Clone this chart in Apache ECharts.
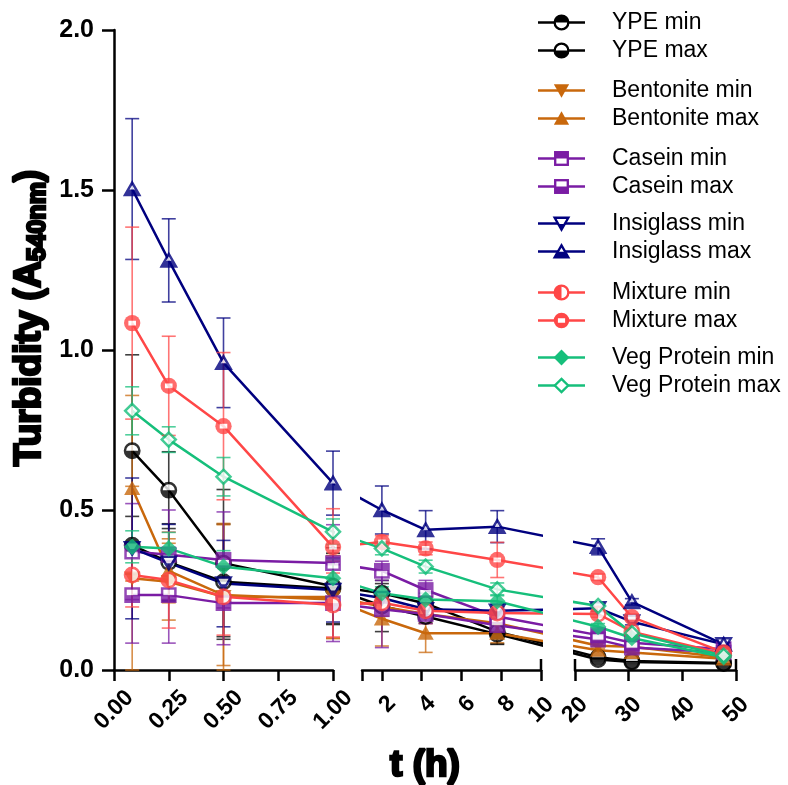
<!DOCTYPE html>
<html>
<head>
<meta charset="utf-8">
<title>Turbidity over time</title>
<script src="https://cdn.jsdelivr.net/npm/echarts@6/dist/echarts.min.js"></script>
<style>
  html, body { margin: 0; padding: 0; background: #ffffff; }
  #chart { width: 788px; height: 785px; }
</style>
</head>
<body>
<div id="chart"></div>
<script>
// Sampling times (h)
const TIMES = [0.083, 0.25, 0.5, 1, 2, 4.2, 7.8, 24.3, 30.6, 47.7];

// Turbidity (A540nm) means and error half-widths per fining agent
const ypeMin      = [0.390, 0.337, 0.276, 0.255, 0.200, 0.167, 0.112, 0.033, 0.025, 0.020];
const ypeMinErr   = [0.090, 0.120, 0.180, 0.110, 0.080, 0.020, 0.030, 0.005, 0.005, 0.005];
const ypeMax      = [0.685, 0.562, 0.334, 0.262, 0.240, 0.208, 0.120, 0.040, 0.028, 0.022];
const ypeMaxErr   = [0.300, 0.120, 0.230, 0.120, 0.030, 0.020, 0.040, 0.005, 0.005, 0.005];
const bentMin     = [0.287, 0.276, 0.229, 0.228, 0.198, 0.175, 0.146, 0.076, 0.073, 0.040];
const bentMinErr  = [0.287, 0.120, 0.229, 0.130, 0.030, 0.030, 0.030, 0.010, 0.010, 0.005];
const bentMax     = [0.568, 0.310, 0.234, 0.220, 0.160, 0.115, 0.115, 0.062, 0.055, 0.035];
const bentMaxErr  = [0.290, 0.100, 0.220, 0.120, 0.085, 0.060, 0.030, 0.010, 0.010, 0.005];
const casMin      = [0.370, 0.360, 0.344, 0.334, 0.310, 0.250, 0.167, 0.109, 0.085, 0.065];
const casMinErr   = [0.150, 0.140, 0.150, 0.120, 0.030, 0.030, 0.020, 0.010, 0.010, 0.005];
const casMax      = [0.234, 0.234, 0.209, 0.209, 0.190, 0.175, 0.140, 0.095, 0.070, 0.055];
const casMaxErr   = [0.150, 0.150, 0.130, 0.120, 0.120, 0.030, 0.020, 0.010, 0.010, 0.005];
const insMin      = [0.380, 0.335, 0.270, 0.250, 0.225, 0.190, 0.185, 0.193, 0.151, 0.080];
const insMinErr   = [0.220, 0.120, 0.135, 0.100, 0.020, 0.020, 0.020, 0.010, 0.010, 0.005];
const insMax      = [1.503, 1.280, 0.960, 0.584, 0.500, 0.438, 0.448, 0.385, 0.213, 0.080];
const insMaxErr   = [0.220, 0.130, 0.140, 0.100, 0.075, 0.060, 0.050, 0.025, 0.010, 0.005];
const mixMin      = [0.297, 0.281, 0.229, 0.203, 0.210, 0.185, 0.178, 0.175, 0.120, 0.050];
const mixMinErr   = [0.100, 0.150, 0.120, 0.100, 0.020, 0.020, 0.020, 0.010, 0.010, 0.005];
const mixMax      = [1.084, 0.888, 0.762, 0.384, 0.400, 0.380, 0.344, 0.290, 0.165, 0.055];
const mixMaxErr   = [0.300, 0.155, 0.230, 0.120, 0.020, 0.020, 0.055, 0.010, 0.010, 0.005];
const vegMin      = [0.385, 0.380, 0.323, 0.287, 0.240, 0.220, 0.215, 0.135, 0.100, 0.040];
const vegMinErr   = [0.050, 0.050, 0.050, 0.060, 0.020, 0.020, 0.020, 0.010, 0.010, 0.005];
const vegMax      = [0.810, 0.720, 0.604, 0.432, 0.380, 0.323, 0.252, 0.200, 0.115, 0.045];
const vegMaxErr   = [0.075, 0.040, 0.060, 0.040, 0.020, 0.020, 0.020, 0.010, 0.010, 0.005];

// Tick labels of the three x-axis segments
const ticksSeg1 = ['0.00', '0.25', '0.50', '0.75', '1.00'];
const ticksSeg2 = ['2', '4', '6', '8', '10'];
const ticksSeg3 = ['20', '30', '40', '50'];
const yTicks    = ['0.0', '0.5', '1.0', '1.5', '2.0'];

const FONT = "'Liberation Sans', Arial, Helvetica, sans-serif";
const COLORS = {
  ype: '#000000', bent: '#c9680c', cas: '#7a1ca4',
  ins: '#00007f', mix: '#ff4747', veg: '#16bf7b'
};

// Broken time axis: each piece maps a time span onto a span of the shared
// display coordinate (1 unit = 1 px), so connecting lines stay straight
// across the breaks.
const PLOT = { left: 114, top: 30, bottom: 115, width: 622 };
const SEGMENTS = [
  { t0: 0,  t1: 1,  u0: 0,   u1: 219, ticks: ticksSeg1, extra: [] },
  { t0: 1,  t1: 10, u0: 248, u1: 427, ticks: ticksSeg2, extra: [1] },
  { t0: 20, t1: 50, u0: 461, u1: 622, ticks: ticksSeg3, extra: [] }
];
function segToU(s, t) { return s.u0 + (t - s.t0) * (s.u1 - s.u0) / (s.t1 - s.t0); }
function toU(t) {
  for (const s of SEGMENTS) {
    if (t >= s.t0 && t <= s.t1) return segToU(s, t);
  }
  return null;
}

// Marker artwork (20x20 units)
function markerShapes(kind, c) {
  const sw = 2.6;
  const open = `fill="#fff" stroke="${c}" stroke-width="${sw}" stroke-linejoin="miter"`;
  switch (kind) {
    case 'circleTop':
      return `<circle cx="10" cy="10" r="7.6" ${open}/><path d="M2.4 10A7.6 7.6 0 0 1 17.6 10Z" fill="${c}"/>`;
    case 'circleBottom':
      return `<circle cx="10" cy="10" r="7.6" ${open}/><path d="M2.4 10A7.6 7.6 0 0 0 17.6 10Z" fill="${c}"/>`;
    case 'triDown':
      return `<path d="M1.5 3H18.5L10 18Z" fill="${c}"/>`;
    case 'triUp':
      return `<path d="M10 2L18.5 17H1.5Z" fill="${c}"/>`;
    case 'squareTop':
      return `<rect x="3" y="3" width="14" height="14" ${open}/><rect x="3" y="3" width="14" height="7" fill="${c}"/>`;
    case 'squareBottom':
      return `<rect x="3" y="3" width="14" height="14" ${open}/><rect x="3" y="10" width="14" height="7" fill="${c}"/>`;
    case 'triDownOpen':
      return `<path d="M2.4 3.6H17.6L10 16.8Z" ${open}/><path d="M6.6 10.6H13.4L10 16.8Z" fill="${c}"/>`;
    case 'triUpOpen':
      return `<path d="M10 3.2L17.6 16.4H2.4Z" ${open}/><path d="M6.6 10.4H13.4L17.6 16.4H2.4Z" fill="${c}"/>`;
    case 'circleLeft':
      return `<circle cx="10" cy="10" r="7.6" ${open}/><path d="M10 2.4A7.6 7.6 0 0 0 10 17.6Z" fill="${c}"/>`;
    case 'circleBar':
      return `<circle cx="10" cy="10" r="8.6" fill="${c}"/><rect x="6" y="7.5" width="8" height="5" fill="#fff"/>`;
    case 'diamond':
      return `<path d="M10 1.2L18.8 10L10 18.8L1.2 10Z" fill="${c}"/>`;
    case 'diamondOpen':
      return `<path d="M10 2.6L17.4 10L10 17.4L2.6 10Z" ${open}/>`;
  }
  return '';
}
function svgURI(svg) {
  return 'image://data:image/svg+xml;charset=utf-8,' + encodeURIComponent(svg);
}
function markerURI(kind, c) {
  return svgURI(`<svg xmlns="http://www.w3.org/2000/svg" width="40" height="40" viewBox="0 0 20 20">${markerShapes(kind, c)}</svg>`);
}
function legendURI(kind, c) {
  return svgURI(`<svg xmlns="http://www.w3.org/2000/svg" width="94" height="36" viewBox="0 0 47 18">` +
    `<line x1="0" y1="9" x2="47" y2="9" stroke="${c}" stroke-width="2.4"/>` +
    `<g transform="translate(14.5 0) scale(0.9)">${markerShapes(kind, c)}</g></svg>`);
}

const SERIES_DEFS = [
  { name: 'YPE min',         color: COLORS.ype,  marker: 'circleTop',    values: ypeMin,  errors: ypeMinErr },
  { name: 'YPE max',         color: COLORS.ype,  marker: 'circleBottom', values: ypeMax,  errors: ypeMaxErr },
  { name: 'Bentonite min',   color: COLORS.bent, marker: 'triDown',      values: bentMin, errors: bentMinErr },
  { name: 'Bentonite max',   color: COLORS.bent, marker: 'triUp',        values: bentMax, errors: bentMaxErr },
  { name: 'Casein min',      color: COLORS.cas,  marker: 'squareTop',    values: casMin,  errors: casMinErr },
  { name: 'Casein max',      color: COLORS.cas,  marker: 'squareBottom', values: casMax,  errors: casMaxErr },
  { name: 'Insiglass min',   color: COLORS.ins,  marker: 'triDownOpen',  values: insMin,  errors: insMinErr },
  { name: 'Insiglass max',   color: COLORS.ins,  marker: 'triUpOpen',    values: insMax,  errors: insMaxErr },
  { name: 'Mixture min',     color: COLORS.mix,  marker: 'circleLeft',   values: mixMin,  errors: mixMinErr },
  { name: 'Mixture max',     color: COLORS.mix,  marker: 'circleBar',    values: mixMax,  errors: mixMaxErr },
  { name: 'Veg Protein min', color: COLORS.veg,  marker: 'diamond',      values: vegMin,  errors: vegMinErr },
  { name: 'Veg Protein max', color: COLORS.veg,  marker: 'diamondOpen',  values: vegMax,  errors: vegMaxErr }
];

// Grids: 0 = whole plot (markers, error bars, y axis); 1..3 = axis pieces
const grids = [{ left: PLOT.left, top: PLOT.top, bottom: PLOT.bottom, width: PLOT.width }];
SEGMENTS.forEach(s => grids.push({ left: PLOT.left + s.u0, top: PLOT.top, bottom: PLOT.bottom, width: s.u1 - s.u0 }));

const axisLineStyle = { color: '#000', width: 2.5 };
const tickFont = { fontFamily: FONT, fontWeight: 'bold', fontSize: 23, color: '#000' };
const xAxes = [{ gridIndex: 0, type: 'value', min: 0, max: PLOT.width, show: false }];
const yAxes = [{
  gridIndex: 0, type: 'value', min: 0, max: 2, interval: 0.5,
  axisLine: { show: true, lineStyle: axisLineStyle },
  axisTick: { show: true, length: 12, lineStyle: { color: '#000', width: 2.5 } },
  axisLabel: {
    margin: 20, color: '#000', fontFamily: FONT, fontWeight: 'bold', fontSize: 25,
    formatter: v => yTicks[Math.round(v / 0.5)]
  },
  splitLine: { show: false }
}];
SEGMENTS.forEach((s, i) => {
  const tickTimes = s.ticks.map(Number);
  const labelMap = {};
  tickTimes.forEach((t, k) => { labelMap[segToU(s, t).toFixed(3)] = s.ticks[k]; });
  xAxes.push({
    gridIndex: i + 1, type: 'value', min: s.u0, max: s.u1,
    axisLine: { show: true, onZero: false, lineStyle: axisLineStyle },
    axisTick: { show: true, length: 11, lineStyle: { color: '#000', width: 2.5 },
      customValues: s.extra.concat(tickTimes).map(t => segToU(s, t)) },
    axisLabel: {
      customValues: tickTimes.map(t => segToU(s, t)),
      rotate: 45, margin: 40, align: 'center', verticalAlign: 'middle',
      ...tickFont,
      formatter: v => {
        const txt = labelMap[Number(v).toFixed(3)] || '';
        return txt.length === 1 ? `{one|${txt}}` : `{many|${txt}}`;
      },
      rich: {
        one: { ...tickFont, padding: [0, 0, 0, 16] },
        many: { ...tickFont }
      }
    },
    splitLine: { show: false }
  });
  yAxes.push({ gridIndex: i + 1, type: 'value', min: 0, max: 2, show: false });
});

const series = [];
SERIES_DEFS.forEach(d => {
  const pts = TIMES.map((t, k) => [toU(t), d.values[k]]);
  // connecting lines, clipped to each axis piece
  SEGMENTS.forEach((s, i) => {
    series.push({
      name: d.name, type: 'line', xAxisIndex: i + 1, yAxisIndex: i + 1,
      data: pts, symbol: 'none', clip: true, z: 2,
      lineStyle: { color: d.color, width: 2.5 }, itemStyle: { color: d.color }
    });
  });
  // error bars
  series.push({
    name: d.name, type: 'custom', xAxisIndex: 0, yAxisIndex: 0, z: 3, clip: false,
    data: TIMES.map((t, k) => [toU(t), d.values[k], d.errors[k]]),
    encode: { x: 0, y: 1 },
    renderItem: (params, api) => {
      const u = api.value(0), v = api.value(1), e = api.value(2);
      const top = api.coord([u, v + e]);
      const bot = api.coord([u, Math.max(v - e, 0)]);
      const hw = 7;
      const style = { stroke: d.color, lineWidth: 1.6, opacity: 0.75 };
      return { type: 'group', children: [
        { type: 'line', shape: { x1: top[0], y1: top[1], x2: bot[0], y2: bot[1] }, style },
        { type: 'line', shape: { x1: top[0] - hw, y1: top[1], x2: top[0] + hw, y2: top[1] }, style },
        { type: 'line', shape: { x1: bot[0] - hw, y1: bot[1], x2: bot[0] + hw, y2: bot[1] }, style }
      ] };
    }
  });
  // markers
  series.push({
    name: d.name, type: 'scatter', xAxisIndex: 0, yAxisIndex: 0, z: 4,
    data: pts, symbol: markerURI(d.marker, d.color), symbolSize: 19,
    itemStyle: { color: d.color }
  });
});

// Legend: six pairs, stacked on the right
const legendTops = [11, 79, 147, 212, 281, 346];
const legends = legendTops.map((top, g) => ({
  left: 538, top: top, orient: 'vertical', padding: 0,
  itemWidth: 47, itemHeight: 18, itemGap: 5, selectedMode: false,
  textStyle: { color: '#000', fontFamily: FONT, fontSize: 23, lineHeight: 20, padding: [0, 0, 0, 22] },
  data: SERIES_DEFS.slice(g * 2, g * 2 + 2).map(d => ({ name: d.name, icon: legendURI(d.marker, d.color) }))
}));

const chart = echarts.init(document.getElementById('chart'), null, { renderer: 'canvas' });
chart.setOption({
  animation: false,
  backgroundColor: '#ffffff',
  grid: grids,
  xAxis: xAxes,
  yAxis: yAxes,
  legend: legends,
  series: series,
  graphic: [
    {
      type: 'text', x: 30, y: 318, rotation: Math.PI / 2,
      style: {
        text: '{a|Turbidity (A}{s|540nm}{a|)}',
        align: 'center', verticalAlign: 'middle',
        rich: {
          a: { fontFamily: FONT, fontWeight: 'bold', fontSize: 37, lineHeight: 42, fill: '#000', verticalAlign: 'middle' },
          s: { fontFamily: FONT, fontWeight: 'bold', fontSize: 25, lineHeight: 26, fill: '#000', verticalAlign: 'bottom', padding: [10, 0, 0, 0] }
        }
      }
    },
    {
      type: 'text', x: PLOT.left + 311, y: 766,
      style: { text: 't (h)', align: 'center', verticalAlign: 'middle', fontFamily: FONT, fontWeight: 'bold', fontSize: 37, fill: '#000' }
    }
  ]
});

// Short upward strokes marking the ends of each axis piece
const y0 = chart.convertToPixel({ yAxisIndex: 0 }, 0);
const breakEnds = [];
SEGMENTS.forEach((s, i) => {
  if (i > 0) breakEnds.push(chart.convertToPixel({ xAxisIndex: i + 1 }, s.u0));
  breakEnds.push(chart.convertToPixel({ xAxisIndex: i + 1 }, s.u1));
});
chart.setOption({
  graphic: breakEnds.map(x => ({
    type: 'line', z: 10,
    shape: { x1: x, y1: y0 - 11, x2: x, y2: y0 },
    style: { stroke: '#000', lineWidth: 2.5 }
  }))
});
</script>
</body>
</html>
